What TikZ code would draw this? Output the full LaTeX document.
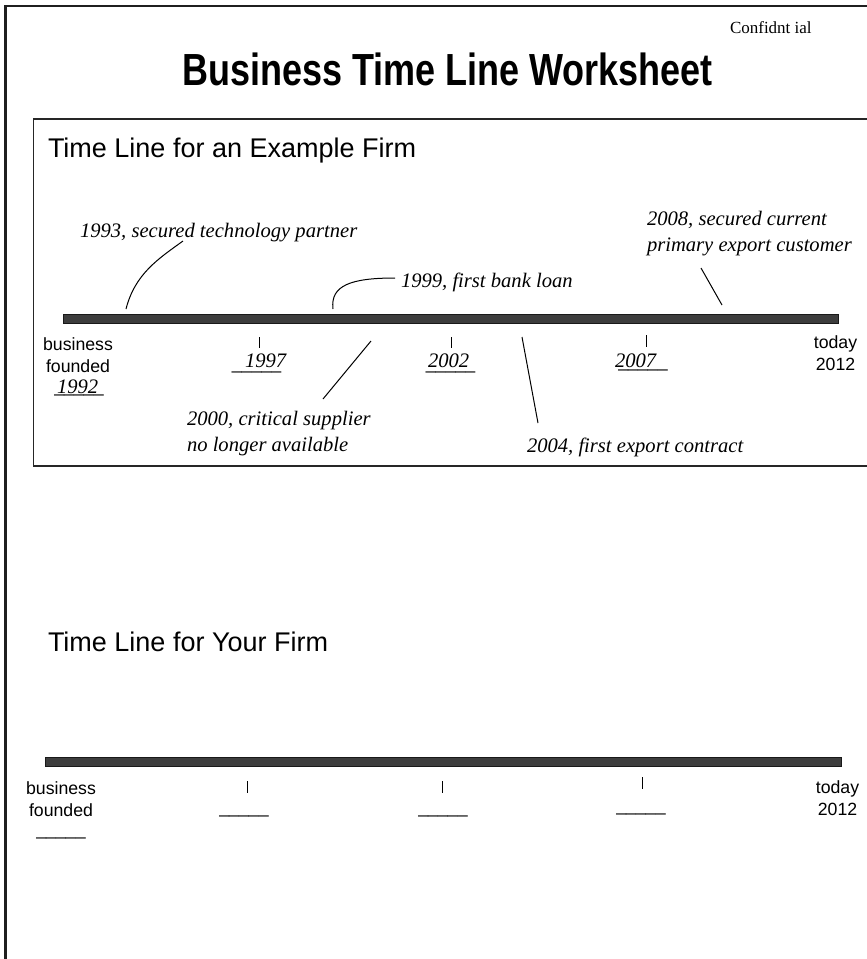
\documentclass[tikz,border=0pt]{standalone}
\usepackage{fontspec}
\setmainfont{Liberation Serif}
\setsansfont{Liberation Sans}
\usepackage{graphicx}

\begin{document}
\begin{tikzpicture}[x=1pt, y=-1pt,
  every node/.style={inner sep=0pt, outer sep=0pt},
  sanslbl/.style={font=\sffamily\fontsize{17.7}{22}\selectfont, align=center},
  heading/.style={font=\sffamily\fontsize{27}{32}\selectfont},
  itlbl/.style={font=\itshape\fontsize{20.6}{26}\selectfont, align=left},
  timebar/.style={draw=black!90, line width=0.7pt, fill=black!76},
  tickmark/.style={line width=0.9pt},
  callout/.style={line width=1pt}]
\clip (0,0) rectangle (867,959);
% page frame
\draw[line width=2.8pt, black!88] (5.8,6) rectangle (920,1000);
% title
\node[font=\sffamily\bfseries\fontsize{45}{50}\selectfont, anchor=base] (title) at (447.5,85) {\scalebox{0.8}[1]{Business Time Line Worksheet}};
\node[font=\fontsize{17}{20}\selectfont, anchor=base west] (conf) at (730,33) {Confidnt ial};

% Example firm box
\draw[line width=1.2pt, black!85] (33.3,119) rectangle (920,466);
\node[heading, anchor=base west] (exhead) at (48,157) {Time Line for an Example Firm};
\draw[timebar] (63,314) rectangle (838,323.5);
\foreach \x in {259,451} \draw[tickmark] (\x,337) -- (\x,348);
\draw[tickmark] (646,335) -- (646,347);
% start and end (base = last line)
\node[sanslbl, anchor=base] (exstart) at (78,372) {business\\founded};
\node[sanslbl, anchor=base] (exend) at (835.5,370) {today\\2012};
% blanks with years
\node[sanslbl, anchor=base] (u1992) at (79,392.8) {\_\_\_\_\_};
\node[sanslbl, anchor=base] (u1997) at (256.5,369.8) {\_\_\_\_\_};
\node[sanslbl, anchor=base] (u2002) at (450.5,369.8) {\_\_\_\_\_};
\node[sanslbl, anchor=base] (u2007) at (643,367.8) {\_\_\_\_\_};
\node[itlbl, anchor=base west] (y1992) at (57,393) {1992};
\node[itlbl, anchor=base west] (y1997) at (245,367) {1997};
\node[itlbl, anchor=base west] (y2002) at (428,367) {2002};
\node[itlbl, anchor=base west] (y2007) at (615,367) {2007};

% events above the line
\node[itlbl, anchor=base west] (l1993) at (80,237) {1993, secured technology partner};
\node[itlbl, anchor=base west] (l1999) at (401,287) {1999, first bank loan};
\node[itlbl, anchor=base west] (l2008) at (647,251) {2008, secured current\\primary export customer};
\coordinate (b1993) at (126,309);
\coordinate (e1993) at (183,241);
\coordinate (b1999) at (333,309);
\coordinate (e1999) at (395,278);
\coordinate (b2008) at (722,305);
\coordinate (e2008) at (701,268);
\draw[callout] (b1993) .. controls (135,274) and (158,259) .. (e1993);
\draw[callout] (b1999) .. controls (330,285) and (352,278) .. (e1999);
\draw[callout] (b2008) -- (e2008);

% events below the line
\node[itlbl, anchor=base west] (l2000) at (187,451) {2000, critical supplier\\no longer available};
\node[itlbl, anchor=base west] (l2004) at (527,452) {2004, first export contract};
\coordinate (b2000) at (371,341);
\coordinate (e2000) at (323,399);
\coordinate (b2004) at (522,337);
\coordinate (e2004) at (538,423);
\draw[callout] (b2000) -- (e2000);
\draw[callout] (b2004) -- (e2004);

% Your firm
\node[heading, anchor=base west] (yrhead) at (48,651) {Time Line for Your Firm};
\draw[timebar] (45,757) rectangle (841,766);
\foreach \x in {247,442} \draw[tickmark] (\x,781) -- (\x,793);
\draw[tickmark] (642,777) -- (642,789);
\node[sanslbl, anchor=base] (yrstart) at (61,816) {business\\founded};
\node[sanslbl, anchor=base] (yrend) at (837.5,815) {today\\2012};
\node[sanslbl, anchor=base] (v0) at (61,835.8) {\_\_\_\_\_};
\node[sanslbl, anchor=base] (v1) at (244,813.8) {\_\_\_\_\_};
\node[sanslbl, anchor=base] (v2) at (443,813.8) {\_\_\_\_\_};
\node[sanslbl, anchor=base] (v3) at (641,811.8) {\_\_\_\_\_};
\end{tikzpicture}
\end{document}
